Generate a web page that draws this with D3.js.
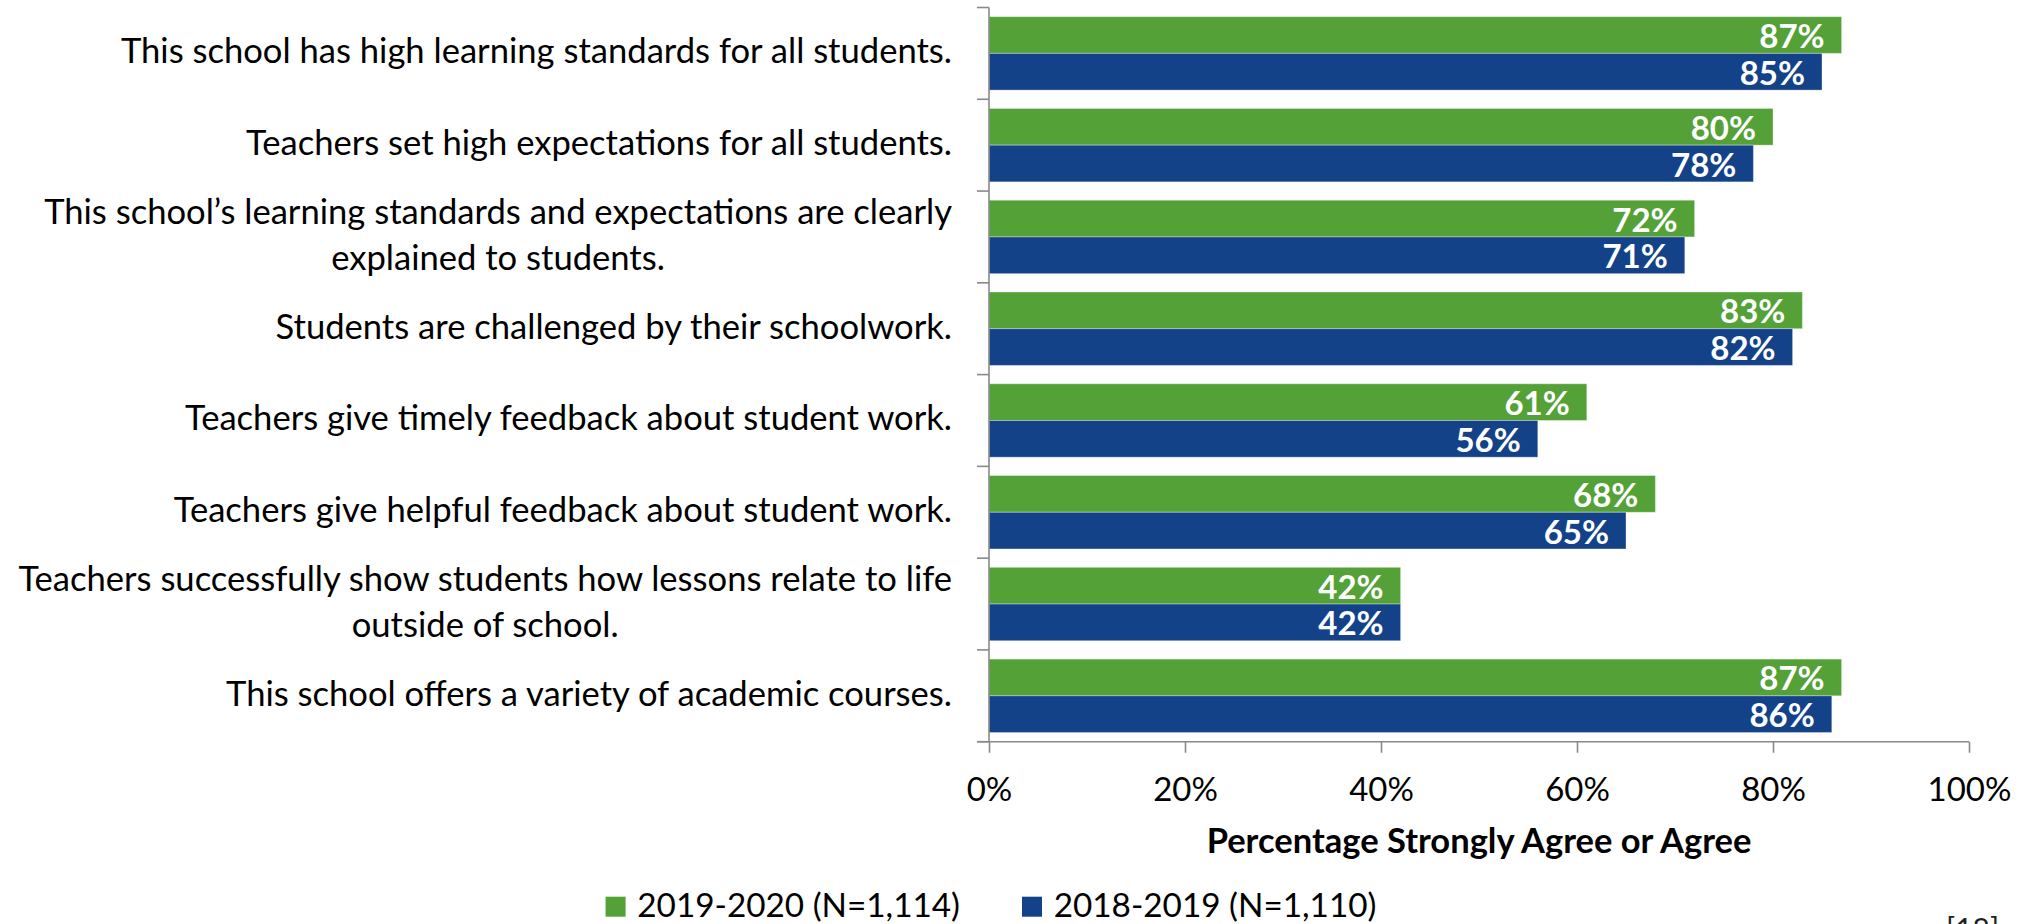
<!DOCTYPE html>
<html>
<head>
<meta charset="utf-8">
<script src="https://cdn.jsdelivr.net/npm/d3@7/dist/d3.min.js"></script>
<style>
  html, body { margin: 0; padding: 0; background: #ffffff; overflow: hidden; }
  svg { display: block; }
  text { font-family: Lato, "Open Sans", sans-serif; }
</style>
</head>
<body>
<svg id="chart" width="2028" height="924"></svg>
<script>
// Survey statements (each entry is one wrapped label, split into lines)
const categories = [
  ["This school has high learning standards for all students."],
  ["Teachers set high expectations for all students."],
  ["This school\u2019s learning standards and expectations are clearly", "explained to students."],
  ["Students are challenged by their schoolwork."],
  ["Teachers give timely feedback about student work."],
  ["Teachers give helpful feedback about student work."],
  ["Teachers successfully show students how lessons relate to life", "outside of school."],
  ["This school offers a variety of academic courses."]
];
const seriesNames = ["2019-2020 (N=1,114)", "2018-2019 (N=1,110)"];
const values2020 = [87, 80, 72, 83, 61, 68, 42, 87];
const values2019 = [85, 78, 71, 82, 56, 65, 42, 86];
const xTicks = [0, 20, 40, 60, 80, 100];
const axisTitle = "Percentage Strongly Agree or Agree";
const pageMark = "[18]";
const colors = ["#54a137", "#134289"];

const svg = d3.select("#chart");
const plot = { left: 989, right: 1969, top: 7.5, bottom: 741.7 };
const axisColor = "#898989";

const catKeys = categories.map((c, i) => i);
const y = d3.scaleBand()
  .domain(catKeys)
  .range([plot.top, plot.bottom])
  .paddingInner(0.2)
  .paddingOuter(0.1);
const ySeries = d3.scaleBand()
  .domain([0, 1])
  .range([0, y.bandwidth()]);
const x = d3.scaleLinear().domain([0, 100]).range([plot.left, plot.right]);

const rows = catKeys.map(i => ({ i, vals: [values2020[i], values2019[i]] }));

// Bars
const groups = svg.append("g").selectAll("g")
  .data(rows).join("g")
  .attr("transform", d => `translate(0,${y(d.i)})`);

groups.selectAll("rect")
  .data(d => d.vals.map((v, s) => ({ v, s })))
  .join("rect")
  .attr("x", x(0))
  .attr("y", d => ySeries(d.s))
  .attr("width", d => x(d.v) - x(0))
  .attr("height", ySeries.bandwidth())
  .attr("fill", d => colors[d.s])
  .attr("stroke", "#ffffff")
  .attr("stroke-opacity", 0.35)
  .attr("stroke-width", 1);

// Value labels inside bar ends
groups.selectAll("text")
  .data(d => d.vals.map((v, s) => ({ v, s })))
  .join("text")
  .attr("x", d => x(d.v) - 17)
  .attr("y", d => ySeries(d.s) + ySeries.bandwidth() / 2 + 13)
  .attr("text-anchor", "end")
  .attr("fill", "#ffffff")
  .attr("font-weight", "bold")
  .attr("font-size", 33)
  .text(d => d.v + "%");

// Category axis: vertical line and boundary ticks
const step = y.step();
const gap = step - y.bandwidth();
const boundaries = catKeys.map(i => y(i) - gap / 2).concat([plot.bottom]);
const axisG = svg.append("g");
axisG.append("line")
  .attr("x1", plot.left).attr("x2", plot.left)
  .attr("y1", plot.top).attr("y2", plot.bottom)
  .attr("stroke", axisColor).attr("stroke-width", 1.6);
axisG.selectAll("line.ctick")
  .data(boundaries).join("line")
  .attr("class", "ctick")
  .attr("x1", plot.left - 12).attr("x2", plot.left)
  .attr("y1", d => d).attr("y2", d => d)
  .attr("stroke", axisColor).attr("stroke-width", 1.6);

// Category labels: right-aligned block, lines centered on each other
const lineH = 45.7;
const labelRight = 952;
const labels = svg.append("g")
  .attr("font-size", 34.6)
  .attr("fill", "#000000");
rows.forEach(r => {
  const lines = categories[r.i];
  const cy = y(r.i) + y.bandwidth() / 2;
  const t = labels.append("text").attr("text-anchor", "middle");
  lines.forEach((ln, k) => {
    t.append("tspan")
      .attr("y", cy + 10 + (k - (lines.length - 1) / 2) * lineH)
      .text(ln);
  });
  const widths = [];
  t.selectAll("tspan").each(function () { widths.push(this.getComputedTextLength()); });
  const w = d3.max(widths);
  t.selectAll("tspan").attr("x", labelRight - w / 2);
});

// Value axis along the bottom
const xAxis = d3.axisBottom(x)
  .tickValues(xTicks)
  .tickFormat(d => d + "%")
  .tickSize(11)
  .tickPadding(0);
const xg = svg.append("g")
  .attr("transform", `translate(0,${plot.bottom})`)
  .call(xAxis);
xg.select(".domain").remove();
xg.insert("line", ":first-child")
  .attr("x1", plot.left - 12).attr("x2", plot.right)
  .attr("y1", 0).attr("y2", 0)
  .attr("stroke", axisColor).attr("stroke-width", 1.6);
xg.selectAll(".tick line").attr("stroke", axisColor).attr("stroke-width", 1.6);
xg.selectAll(".tick text")
  .attr("font-family", "Lato, sans-serif")
  .attr("font-size", 33)
  .attr("fill", "#000000")
  .attr("dy", null)
  .attr("y", 59);

// Axis title
svg.append("text")
  .attr("x", (plot.left + plot.right) / 2)
  .attr("y", 853)
  .attr("text-anchor", "middle")
  .attr("font-weight", "bold")
  .attr("font-size", 34.5)
  .attr("fill", "#000000")
  .text(axisTitle);

// Legend
const legend = svg.append("g");
const items = legend.selectAll("g").data(seriesNames).join("g");
items.append("rect")
  .attr("width", 20).attr("height", 20)
  .attr("y", 896.7)
  .attr("fill", (d, i) => colors[i]);
items.append("text")
  .attr("x", 31.7)
  .attr("y", 916.7)
  .attr("font-size", 33.3)
  .attr("fill", "#000000")
  .text(d => d);
const itemW = [];
items.each(function () {
  const tw = d3.select(this).select("text").node().getComputedTextLength();
  itemW.push(31.7 + tw);
});
const totalW = d3.sum(itemW) + 62 * (itemW.length - 1);
let cursor = 991 - totalW / 2;
items.attr("transform", (d, i) => {
  const tx = cursor;
  cursor += itemW[i] + 62;
  return `translate(${tx},0)`;
});

// Page marker at the lower right, running off the bottom edge
svg.append("text")
  .attr("x", 1946)
  .attr("y", 940)
  .attr("font-size", 30)
  .attr("fill", "#222222")
  .text(pageMark);
</script>
</body>
</html>
